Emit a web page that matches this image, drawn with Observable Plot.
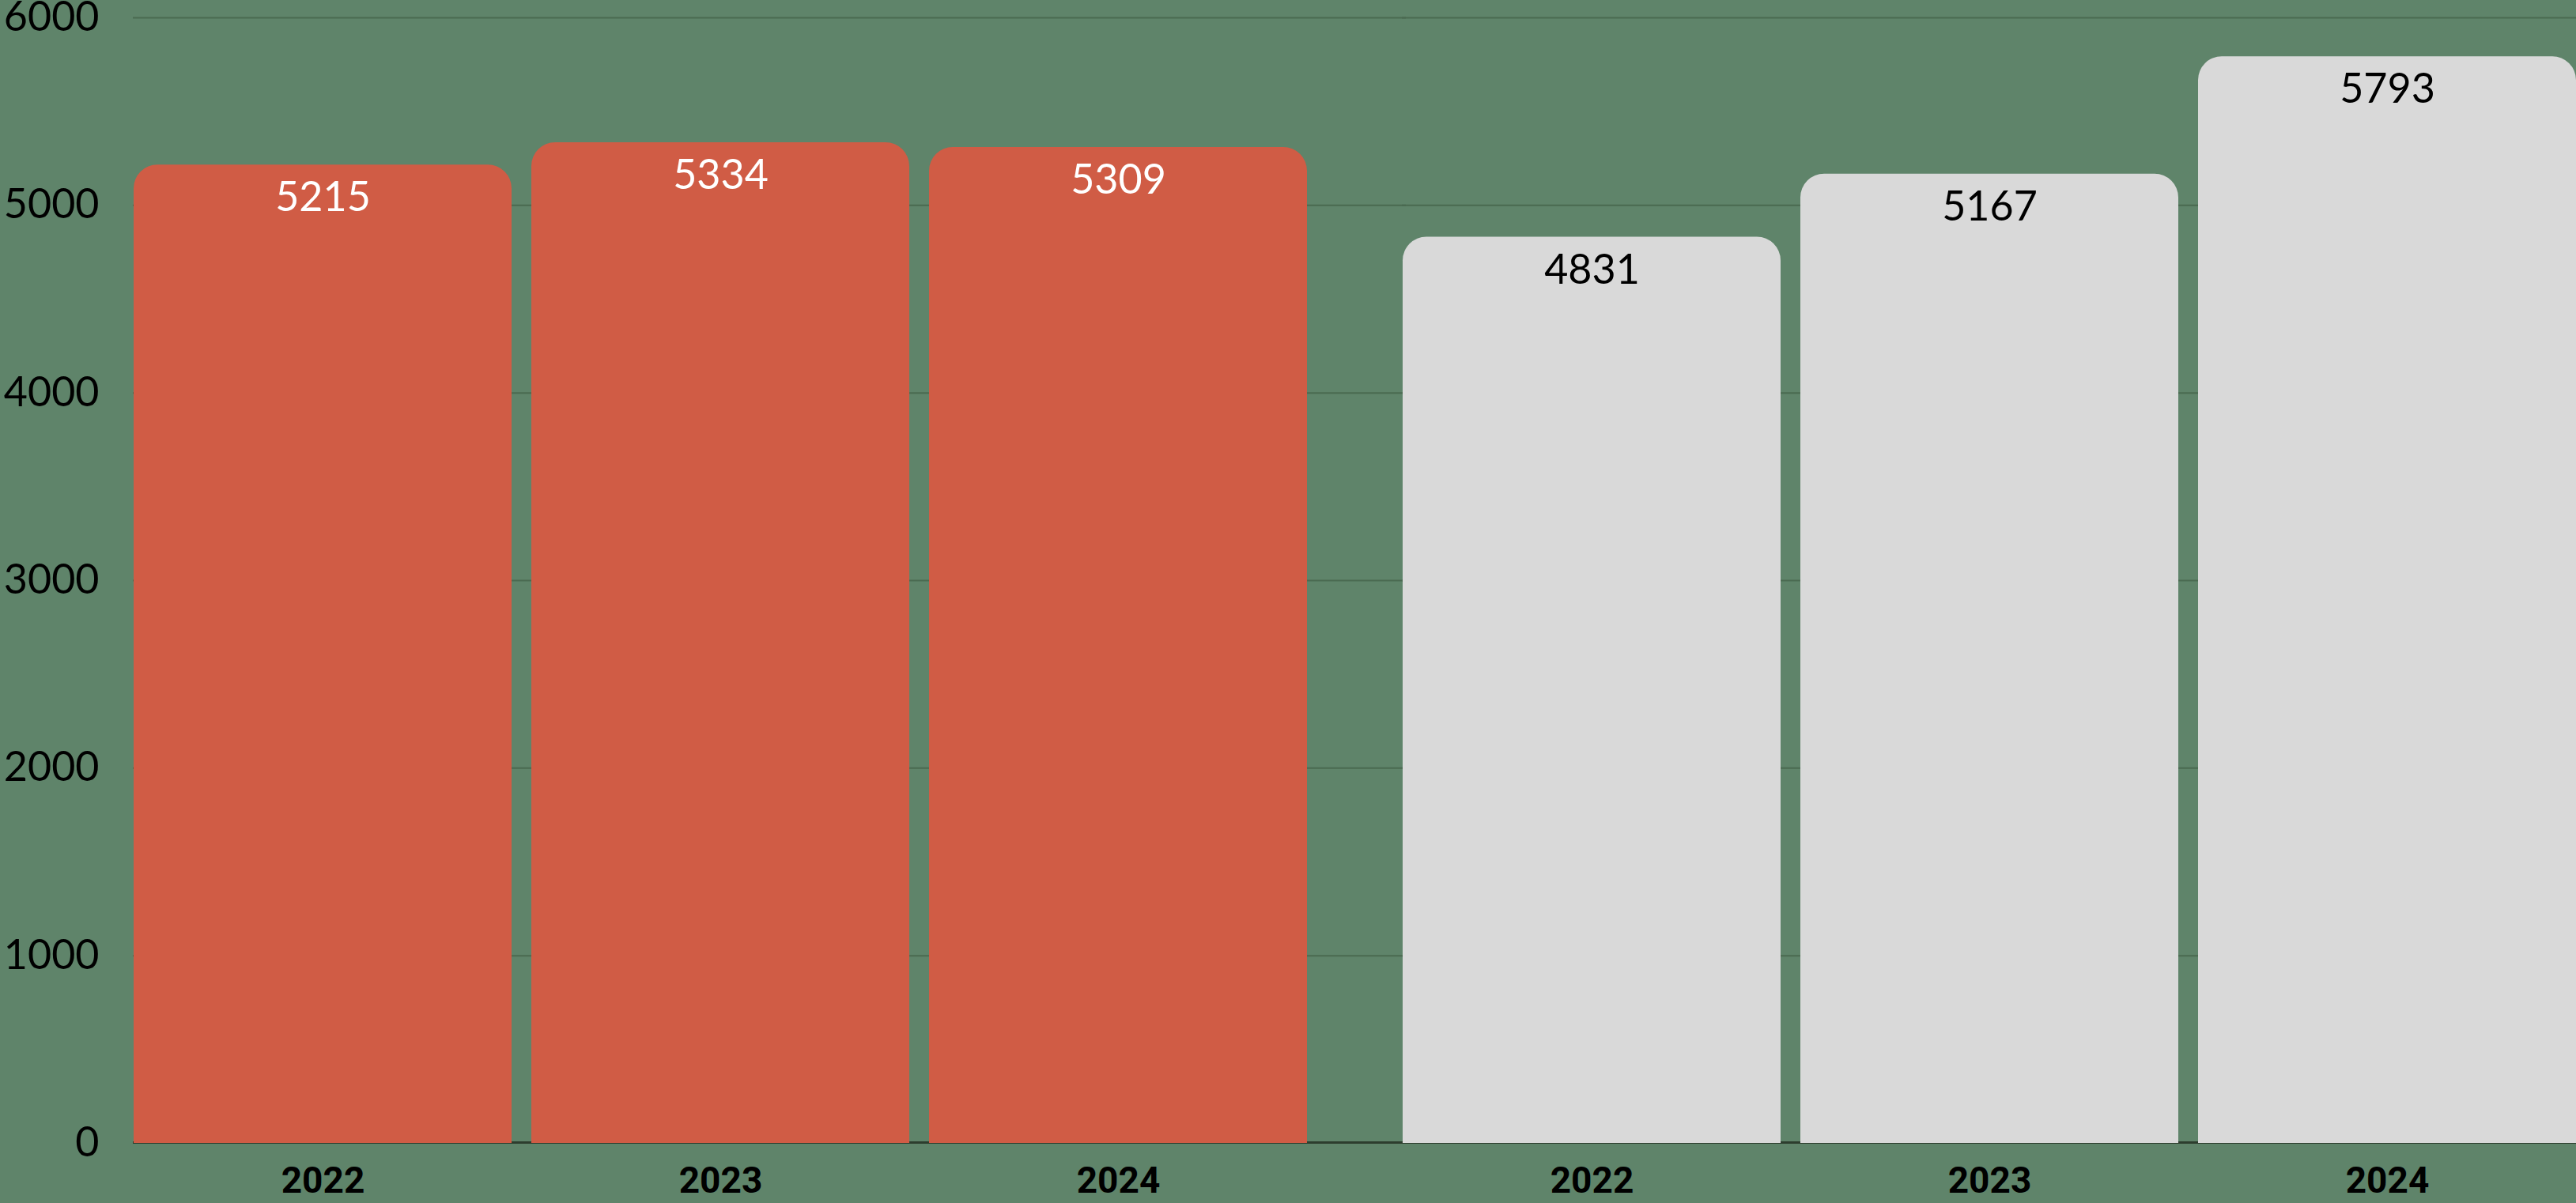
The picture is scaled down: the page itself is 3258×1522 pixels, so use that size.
<!DOCTYPE html>
<html>
<head>
<meta charset="utf-8">
<script src="https://cdn.jsdelivr.net/npm/d3@7"></script>
<script src="https://cdn.jsdelivr.net/npm/@observablehq/plot@0.6"></script>
<style>
  html, body { margin: 0; padding: 0; background: #5f846a; }
  #chart { width: 3258px; height: 1522px; }
</style>
</head>
<body>
<div id="chart"></div>
<script>
// ---- data ----
const groups = ["A", "B"];
const years = ["2022", "2023", "2024"];
const valuesA = [5215, 5334, 5309];
const valuesB = [4831, 5167, 5793];
const yTicks = [0, 1000, 2000, 3000, 4000, 5000, 6000];

// ---- styles ----
const barColors = ["#d05c45", "#d9d9d9"];
const labelColors = ["#ffffff", "#000000"];
const bg = "#5f846a";

const rows = [];
years.forEach((yr, i) => rows.push({group: groups[0], year: yr, value: valuesA[i]}));
years.forEach((yr, i) => rows.push({group: groups[1], year: yr, value: valuesB[i]}));

const gridRows = [];
groups.forEach(g => yTicks.forEach(t => gridRows.push({group: g, tick: t})));

const chart = Plot.plot({
  width: 3258,
  height: 1522,
  marginTop: 22,
  marginBottom: 76,
  marginLeft: 168,
  marginRight: 0,
  style: {background: bg, fontFamily: "Lato, sans-serif", color: "#000"},
  fx: {domain: groups, paddingInner: 0.075, paddingOuter: 0, axis: null, label: null},
  x: {domain: years, paddingInner: 0.05, paddingOuter: 0, label: null},
  y: {domain: [0, 6000], label: null},
  color: {domain: groups, range: barColors},
  marks: [
    Plot.ruleY(gridRows.filter(d => d.tick > 0), {fx: "group", y: "tick", stroke: "#4a6a51", strokeWidth: 2, insetRight: -125}),
    Plot.ruleY(gridRows.filter(d => d.tick === 0), {fx: "group", y: "tick", stroke: "#2d3d2e", strokeWidth: 3, dy: -1, insetRight: -125}),
    Plot.barY(rows, {fx: "group", x: "year", y: "value", fill: "group", ry1: 30}),
    Plot.text(rows, {
      fx: "group", x: "year", y: "value", text: d => String(d.value),
      dy: 42, fontSize: 52, fontWeight: 400,
      fill: d => labelColors[groups.indexOf(d.group)]
    }),
    Plot.axisY(yTicks, {tickSize: 0, tickPadding: 43, fontSize: 52, fill: "#000", label: null, tickFormat: d => String(d)}),
    Plot.axisX({tickSize: 0, tickPadding: 30, fontSize: 46, fontWeight: 700, fontFamily: "Roboto, sans-serif", fill: "#000", label: null})
  ]
});
document.getElementById("chart").appendChild(chart);
</script>
</body>
</html>
